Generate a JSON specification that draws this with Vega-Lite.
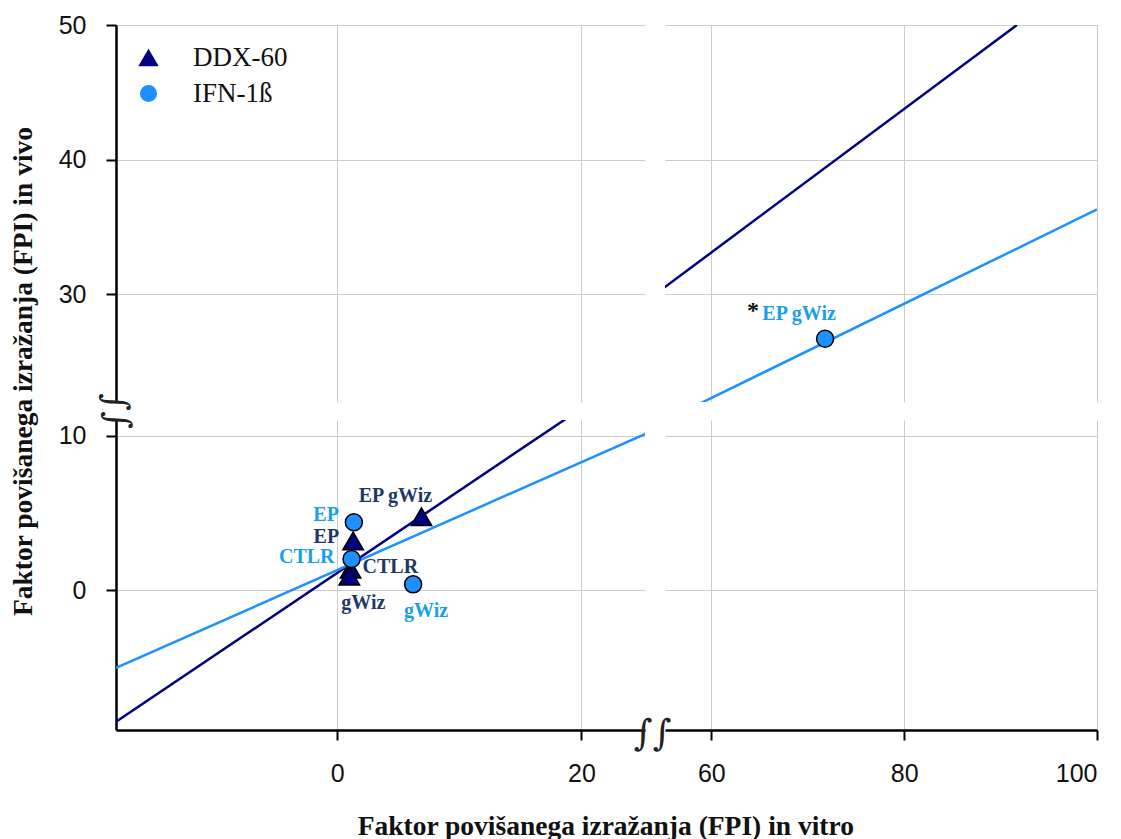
{
  "$schema": "https://vega.github.io/schema/vega-lite/v6.json",
  "padding": {"left": 9, "top": 13, "right": 5, "bottom": 2},
  "datasets": {
    "points": [
      {"series": "DDX-60", "cond": "EP", "x": 1.31, "y": 3.18},
      {"series": "DDX-60", "cond": "CTLR", "x": 1.1, "y": 1.35},
      {"series": "DDX-60", "cond": "gWiz", "x": 1.0, "y": 0.9},
      {"series": "DDX-60", "cond": "EP gWiz", "x": 6.9, "y": 4.75},
      {"series": "IFN-1ß", "cond": "EP", "x": 1.37, "y": 4.39},
      {"series": "IFN-1ß", "cond": "CTLR", "x": 1.18, "y": 2.01},
      {"series": "IFN-1ß", "cond": "gWiz", "x": 6.22, "y": 0.37},
      {"series": "IFN-1ß", "cond": "EP gWiz", "x": 71.8, "y": 26.7}
    ],
    "fits": [
      {"series": "DDX-60", "x": -18.1, "y": -8.54},
      {"series": "DDX-60", "x": 91.7, "y": 50},
      {"series": "IFN-1ß", "x": -18.1, "y": -5.05},
      {"series": "IFN-1ß", "x": 100, "y": 36.3}
    ]
  },
  "title": {"text": "Faktor povišanega izražanja (FPI) in vitro", "orient": "bottom", "anchor": "middle", "font": "Liberation Serif", "fontSize": 27.5, "fontWeight": "bold", "color": "#111", "offset": 27, "dx": 52},
  "vconcat": [
    {
      "title": {"text": "Faktor povišanega izražanja (FPI) in vivo", "orient": "left", "anchor": "middle", "font": "Liberation Serif", "fontSize": 27.5, "fontWeight": "bold", "color": "#111", "offset": 21, "dx": 28},
      "columns": 2,
      "spacing": {"row": 18, "column": 20},
      "bounds": "flush",
      "resolve": {"legend": {"color": "independent", "shape": "independent", "size": "independent"}},
      "concat": [
        {
          "width": 529, "height": 377,
          "layer": [
            {
              "data": {"name": "points"},
              "mark": {"type": "point", "filled": true, "opacity": 1, "stroke": "black", "strokeWidth": 1.5, "clip": true},
              "encoding": {
                "x": {"field": "x", "type": "quantitative", "scale": {"domain": [-18.1, 25.2], "nice": false, "zero": false}, "axis": {"values": [0, 20], "title": null, "labels": false, "ticks": false, "domain": false, "grid": true}},
                "y": {"field": "y", "type": "quantitative", "scale": {"domain": [22, 50], "nice": false, "zero": false}, "axis": {"values": [30, 40, 50], "title": null, "grid": true}},
                "color": {"field": "series", "type": "nominal", "scale": {"domain": ["DDX-60", "IFN-1ß"], "range": ["#000080", "#1E90FF"]},
                  "legend": {"title": null, "orient": "top-left", "offset": 18, "padding": 1, "labelFont": "Liberation Serif", "labelFontSize": 27, "labelColor": "#111", "labelOffset": 31, "rowPadding": 8, "symbolStrokeColor": "black", "symbolStrokeWidth": 1.5, "symbolOpacity": 1}},
                "shape": {"field": "series", "type": "nominal", "scale": {"domain": ["DDX-60", "IFN-1ß"], "range": ["triangle-up", "circle"]},
                  "legend": {"title": null, "orient": "top-left", "offset": 18, "padding": 1, "labelFont": "Liberation Serif", "labelFontSize": 27, "labelColor": "#111", "labelOffset": 31, "rowPadding": 8, "symbolStrokeColor": "black", "symbolStrokeWidth": 1.5, "symbolOpacity": 1}},
                "size": {"field": "series", "type": "nominal", "scale": {"domain": ["DDX-60", "IFN-1ß"], "range": [420, 290]},
                  "legend": {"title": null, "orient": "top-left", "offset": 18, "padding": 1, "labelFont": "Liberation Serif", "labelFontSize": 27, "labelColor": "#111", "labelOffset": 31, "rowPadding": 8, "symbolStrokeColor": "black", "symbolStrokeWidth": 1.5, "symbolOpacity": 1}}
              }
            },
            {
              "data": {"name": "points"},
              "transform": [{"filter": "datum.cond == 'EP' && datum.series == 'DDX-60'"}],
              "mark": {"type": "text", "text": "∫", "font": "DejaVu Serif", "fontSize": 34, "angle": 90, "color": "#222", "dy": 1, "clip": false},
              "encoding": {"x": {"datum": -18.1, "type": "quantitative"}, "y": {"datum": 22, "type": "quantitative"}}
            }
          ]
        },
        {
          "width": 432, "height": 377,
          "layer": [
            {
              "data": {"name": "fits"},
              "mark": {"type": "line", "strokeWidth": 2.5, "clip": true},
              "encoding": {
                "x": {"field": "x", "type": "quantitative", "scale": {"domain": [55.2, 100], "nice": false, "zero": false}, "axis": {"values": [60, 80, 100], "title": null, "labels": false, "ticks": false, "domain": false, "grid": true}},
                "y": {"field": "y", "type": "quantitative", "scale": {"domain": [22, 50], "nice": false, "zero": false}, "axis": {"values": [30, 40, 50], "title": null, "labels": false, "ticks": false, "domain": false, "grid": true}},
                "color": {"field": "series", "type": "nominal", "scale": {"domain": ["DDX-60", "IFN-1ß"], "range": ["#000080", "#1E90FF"]}, "legend": null}
              }
            },
            {
              "data": {"name": "points"},
              "mark": {"type": "point", "filled": true, "opacity": 1, "stroke": "black", "strokeWidth": 1.5, "clip": true},
              "encoding": {
                "x": {"field": "x", "type": "quantitative"},
                "y": {"field": "y", "type": "quantitative"},
                "color": {"field": "series", "type": "nominal", "legend": null},
                "shape": {"field": "series", "type": "nominal", "scale": {"domain": ["DDX-60", "IFN-1ß"], "range": ["triangle-up", "circle"]}, "legend": null},
                "size": {"field": "series", "type": "nominal", "scale": {"domain": ["DDX-60", "IFN-1ß"], "range": [330, 280]}, "legend": null}
              }
            },
            {
              "data": {"name": "points"},
              "transform": [{"filter": "datum.cond == 'EP gWiz' && datum.series == 'IFN-1ß'"}],
              "mark": {"type": "text", "font": "Liberation Serif", "fontWeight": "bold", "fontSize": 20, "color": "#1A9FE8", "align": "center", "baseline": "middle", "dx": -26, "dy": -25},
              "encoding": {"x": {"field": "x", "type": "quantitative"}, "y": {"field": "y", "type": "quantitative"}, "text": {"field": "cond"}}
            },
            {
              "data": {"name": "points"},
              "transform": [{"filter": "datum.cond == 'EP gWiz' && datum.series == 'IFN-1ß'"}],
              "mark": {"type": "text", "text": "*", "font": "Liberation Serif", "fontWeight": "bold", "fontSize": 24, "color": "#111", "align": "center", "baseline": "middle", "dx": -72, "dy": -28},
              "encoding": {"x": {"field": "x", "type": "quantitative"}, "y": {"field": "y", "type": "quantitative"}}
            }
          ]
        },
        {
          "width": 529, "height": 310,
          "layer": [
            {
              "data": {"name": "fits"},
              "mark": {"type": "line", "strokeWidth": 2.5, "clip": true},
              "encoding": {
                "x": {"field": "x", "type": "quantitative", "scale": {"domain": [-18.1, 25.2], "nice": false, "zero": false}, "axis": {"values": [0, 20], "title": null, "grid": true}},
                "y": {"field": "y", "type": "quantitative", "scale": {"domain": [-9.07, 11.02], "nice": false, "zero": false}, "axis": {"values": [0, 10], "title": null, "grid": true}},
                "color": {"field": "series", "type": "nominal", "scale": {"domain": ["DDX-60", "IFN-1ß"], "range": ["#000080", "#1E90FF"]}, "legend": null}
              }
            },
            {
              "data": {"name": "points"},
              "mark": {"type": "point", "filled": true, "opacity": 1, "stroke": "black", "strokeWidth": 1.5, "clip": true},
              "encoding": {
                "x": {"field": "x", "type": "quantitative"},
                "y": {"field": "y", "type": "quantitative"},
                "color": {"field": "series", "type": "nominal", "legend": null},
                "shape": {"field": "series", "type": "nominal", "scale": {"domain": ["DDX-60", "IFN-1ß"], "range": ["triangle-up", "circle"]}, "legend": null},
                "size": {"field": "series", "type": "nominal", "scale": {"domain": ["DDX-60", "IFN-1ß"], "range": [330, 280]}, "legend": null}
              }
            },
            {
              "data": {"name": "points"},
              "transform": [{"filter": "datum.cond == 'EP' && datum.series == 'IFN-1ß'"}],
              "mark": {"type": "text", "font": "Liberation Serif", "fontWeight": "bold", "fontSize": 20, "color": "#1A9FE8", "align": "right", "baseline": "middle", "dx": -15, "dy": -7},
              "encoding": {"x": {"field": "x", "type": "quantitative"}, "y": {"field": "y", "type": "quantitative"}, "text": {"field": "cond"}}
            },
            {
              "data": {"name": "points"},
              "transform": [{"filter": "datum.cond == 'EP' && datum.series == 'DDX-60'"}],
              "mark": {"type": "text", "font": "Liberation Serif", "fontWeight": "bold", "fontSize": 20, "color": "#1F3864", "align": "right", "baseline": "middle", "dx": -14, "dy": -4},
              "encoding": {"x": {"field": "x", "type": "quantitative"}, "y": {"field": "y", "type": "quantitative"}, "text": {"field": "cond"}}
            },
            {
              "data": {"name": "points"},
              "transform": [{"filter": "datum.cond == 'CTLR' && datum.series == 'IFN-1ß'"}],
              "mark": {"type": "text", "font": "Liberation Serif", "fontWeight": "bold", "fontSize": 20, "color": "#1A9FE8", "align": "right", "baseline": "middle", "dx": -17, "dy": -2},
              "encoding": {"x": {"field": "x", "type": "quantitative"}, "y": {"field": "y", "type": "quantitative"}, "text": {"field": "cond"}}
            },
            {
              "data": {"name": "points"},
              "transform": [{"filter": "datum.cond == 'CTLR' && datum.series == 'DDX-60'"}],
              "mark": {"type": "text", "font": "Liberation Serif", "fontWeight": "bold", "fontSize": 20, "color": "#1F3864", "align": "left", "baseline": "middle", "dx": 12, "dy": -2},
              "encoding": {"x": {"field": "x", "type": "quantitative"}, "y": {"field": "y", "type": "quantitative"}, "text": {"field": "cond"}}
            },
            {
              "data": {"name": "points"},
              "transform": [{"filter": "datum.cond == 'gWiz' && datum.series == 'DDX-60'"}],
              "mark": {"type": "text", "font": "Liberation Serif", "fontWeight": "bold", "fontSize": 20, "color": "#1F3864", "align": "center", "baseline": "middle", "dx": 14, "dy": 27},
              "encoding": {"x": {"field": "x", "type": "quantitative"}, "y": {"field": "y", "type": "quantitative"}, "text": {"field": "cond"}}
            },
            {
              "data": {"name": "points"},
              "transform": [{"filter": "datum.cond == 'EP gWiz' && datum.series == 'DDX-60'"}],
              "mark": {"type": "text", "font": "Liberation Serif", "fontWeight": "bold", "fontSize": 20, "color": "#1F3864", "align": "center", "baseline": "middle", "dx": -26, "dy": -21},
              "encoding": {"x": {"field": "x", "type": "quantitative"}, "y": {"field": "y", "type": "quantitative"}, "text": {"field": "cond"}}
            },
            {
              "data": {"name": "points"},
              "transform": [{"filter": "datum.cond == 'gWiz' && datum.series == 'IFN-1ß'"}],
              "mark": {"type": "text", "font": "Liberation Serif", "fontWeight": "bold", "fontSize": 20, "color": "#1A9FE8", "align": "center", "baseline": "middle", "dx": 13, "dy": 27},
              "encoding": {"x": {"field": "x", "type": "quantitative"}, "y": {"field": "y", "type": "quantitative"}, "text": {"field": "cond"}}
            },
            {
              "data": {"name": "points"},
              "transform": [{"filter": "datum.cond == 'EP' && datum.series == 'DDX-60'"}],
              "mark": {"type": "text", "text": "∫", "font": "DejaVu Serif", "fontSize": 34, "angle": 90, "color": "#222", "dy": -1, "clip": false},
              "encoding": {"x": {"datum": -18.1, "type": "quantitative"}, "y": {"datum": 11.02, "type": "quantitative"}}
            },
            {
              "data": {"name": "points"},
              "transform": [{"filter": "datum.cond == 'EP' && datum.series == 'DDX-60'"}],
              "mark": {"type": "text", "text": "∫", "font": "DejaVu Serif", "fontSize": 36, "color": "#222", "dx": -2, "dy": 4, "clip": false},
              "encoding": {"x": {"datum": 25.2, "type": "quantitative"}, "y": {"datum": -9.07, "type": "quantitative"}}
            }
          ]
        },
        {
          "width": 432, "height": 310,
          "layer": [
            {
              "data": {"name": "fits"},
              "mark": {"type": "line", "strokeWidth": 2.5, "clip": true},
              "encoding": {
                "x": {"field": "x", "type": "quantitative", "scale": {"domain": [55.2, 100], "nice": false, "zero": false}, "axis": {"values": [60, 80, 100], "title": null, "grid": true}},
                "y": {"field": "y", "type": "quantitative", "scale": {"domain": [-9.07, 11.02], "nice": false, "zero": false}, "axis": {"values": [0, 10], "title": null, "labels": false, "ticks": false, "domain": false, "grid": true}},
                "color": {"field": "series", "type": "nominal", "scale": {"domain": ["DDX-60", "IFN-1ß"], "range": ["#000080", "#1E90FF"]}, "legend": null}
              }
            },
            {
              "data": {"name": "points"},
              "transform": [{"filter": "datum.cond == 'EP' && datum.series == 'DDX-60'"}],
              "mark": {"type": "text", "text": "∫", "font": "DejaVu Serif", "fontSize": 36, "color": "#222", "dx": -3, "dy": 4, "clip": false},
              "encoding": {"x": {"datum": 55.2, "type": "quantitative"}, "y": {"datum": -9.07, "type": "quantitative"}}
            }
          ]
        }
      ]
    }
  ],
  "config": {
    "view": {"stroke": null},
    "axis": {
      "domainColor": "black", "domainWidth": 2.5, "tickColor": "black", "tickWidth": 2, "tickSize": 10,
      "labelFont": "Liberation Sans", "labelFontSize": 25, "labelColor": "#111",
      "gridColor": "#CCCCCC", "gridWidth": 1
    },
    "axisX": {"labelPadding": 21},
    "axisY": {"labelPadding": 20}
  }
}
